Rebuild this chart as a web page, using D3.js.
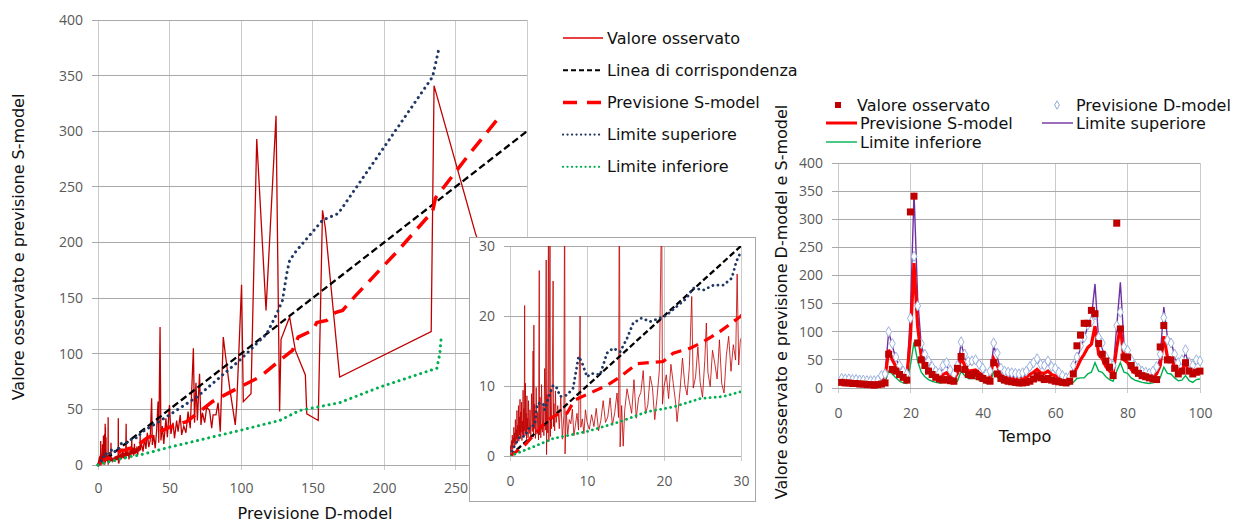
<!DOCTYPE html>
<html>
<head>
<meta charset="utf-8">
<script src="https://cdn.jsdelivr.net/npm/d3@7"></script>
<style>
  body { margin: 0; background: #fff; }
  .tick text { font-family: "Open Sans", sans-serif; font-size: 14px; fill: #595959; }
  .title, .leg { font-family: "DejaVu Sans", sans-serif; font-size: 16px; fill: #111; }
</style>
</head>
<body>
<div id="chart"></div>
<script>

// ---- left chart: observed value vs D-model forecast [D, value] ----
var osservatoD = [
  [0.05,0.3],[0.1,1.5],[0.15,0.8],[0.2,2.2],[0.25,1.1],[0.3,3.0],[0.35,0.9],[0.4,2.6],[0.45,1.8],[0.5,4.1],
  [0.55,1.2],[0.6,3.3],[0.65,2.0],[0.7,5.2],[0.75,1.6],[0.8,3.8],[0.85,2.4],[0.9,6.5],[0.95,1.9],[1.0,4.4],
  [1.05,2.8],[1.1,7.2],[1.15,2.1],[1.2,5.6],[1.25,3.0],[1.3,8.1],[1.35,2.5],[1.4,6.3],[1.45,3.4],[1.5,7.7],
  [1.55,2.2],[1.6,5.0],[1.65,3.1],[1.7,9.4],[1.75,2.7],[1.8,6.8],[1.85,3.6],[1.9,21.5],[1.95,2.9],[2.0,10.4],
  [2.05,3.3],[2.1,6.1],[2.15,2.4],[2.2,8.6],[2.25,3.8],[2.3,5.4],[2.35,2.6],[2.4,7.9],[2.5,3.2],[2.6,6.6],
  [2.7,2.8],[2.8,8.9],[2.9,3.5],[3.0,15.0],[3.05,2.7],[3.1,18.7],[3.15,3.9],[3.2,7.4],[3.3,2.5],[3.4,9.8],
  [3.5,3.1],[3.6,6.2],[3.7,2.3],[3.8,26.5],[3.85,3.0],[3.9,8.4],[4.0,2.6],[4.1,10.2],[4.2,3.4],[4.3,7.1],
  [4.4,2.9],[4.5,12.5],[4.6,3.7],[4.7,28.0],[4.75,0.2],[4.8,8.8],[4.9,3.3],[5.0,37],[5.05,2.1],[5.2,34],
  [5.25,2.8],[5.3,9.6],[5.4,3.9],[5.5,11.2],[5.6,25.0],[5.65,4.2],[5.7,7.5],[5.8,3.6],[5.9,9.3],[6.0,4.8],
  [6.2,7.2],[6.4,3.9],[6.6,8.5],[6.8,2.4],[7.0,5.8],[7.1,43],[7.15,0.3],[7.3,6.4],[7.5,3.1],[7.7,5.2],
  [7.9,4.6],[8.1,6.7],[8.3,2.9],[8.5,4.4],[8.7,6.1],[8.9,3.7],[9.1,20.0],[9.2,4.1],[9.4,5.3],[9.6,3.2],
  [9.8,6.6],[10.0,4.9],[10.3,3.8],[10.6,5.9],[10.9,4.2],[11.2,6.8],[11.5,3.6],[11.8,5.1],[12.1,7.9],[12.4,4.8],
  [12.7,5.6],[13.0,8.3],[13.3,4.4],[13.6,6.2],[13.9,9.0],[14.1,5.5],[14.2,42],[14.3,1.3],[14.5,7.2],[14.7,1.4],
  [14.9,6.6],[15.2,9.6],[15.5,7.8],[15.8,6.1],[16.1,10.9],[16.4,5.4],[16.7,8.3],[17.0,9.1],[17.3,12.2],[17.6,6.0],
  [17.9,7.3],[18.2,11.4],[18.5,9.8],[18.8,5.2],[19.1,8.4],[19.4,12.3],[19.7,37],[19.8,7.4],[20.0,9.9],[20.3,11.6],
  [20.6,8.2],[20.9,13.1],[21.2,10.4],[21.5,7.7],[21.7,4.9],[22.1,9.6],[22.4,14.0],[22.7,10.2],[23.0,8.7],[23.3,12.8],
  [23.6,22.8],[23.8,9.7],[24.1,11.3],[24.4,15.6],[24.7,10.5],[25.0,8.4],[25.3,13.7],[25.5,19.0],[25.7,12.0],[26.0,9.9],
  [26.3,15.1],[26.6,13.2],[26.9,11.0],[27.2,16.6],[27.5,10.3],[27.8,9.0],[28.1,14.4],[28.4,17.1],[28.7,12.1],[29.0,15.9],
  [29.3,13.7],[29.5,26.0],[29.7,13.0],[29.9,16.4],[30.5,18.5],[31.5,12.0],[32.5,24.0],[33.5,14.5],[34.5,29.0],[35.5,16.0],
  [36.5,22.0],[37.5,60.0],[38,18.0],[39,27.0],[40,15.0],[41,31.0],[42,57.0],[42.5,20.0],[43.4,124.0],[44,22.0],
  [45,35.0],[46,19.0],[47.5,42.0],[48.5,25.0],[50,54.0],[51,28.0],[52.5,38.0],[53.5,24.0],[55,40.0],[56,30.0],
  [57.5,45.0],[58.5,27.0],[60,35.0],[61.5,29.0],[63,48.0],[64.5,33.0],[66.7,105.0],[67.5,38.0],[68.5,74.0],[69.5,40.0],
  [71,82.0],[72,36.0],[73,47.0],[74.6,38.0],[76,52.0],[78,49.0],[79.5,33.0],[80.5,45.0],[82.5,45.0],[84,56.0],
  [85.5,30.0],[87.6,115.0],[89,100.0],[92,70.0],[96,36.0],[97,54.0],[100.4,162.0],[101.6,57.0],[107,64.0],[111,293.0],
  [117.5,139.0],[124.5,314.0],[127,48.0],[128,113.0],[134,133.0],[138,103.0],[145,81.0],[146,46.0],[154,40.0],[157,229.0],
  [159,213.0],[169,79.0],[233,120.0],[235,341.0],[264,208.0],[280,150.0]
];
var corrispondenza = [[0,0],[300,300]];
var previsioneS = [
  [0,0],[1.7,1.3],[3.5,3.5],[4.8,5.1],[6.1,5.9],[7.4,6.1],[8.4,8],[10.8,9.2],[12.6,10.1],[14.3,11.3],
  [16.5,13.2],[19.9,13.5],[21.2,14.7],[23.4,15.4],[25.1,16.3],[27.3,17.8],[29.9,19.9],[34,24],[50,34],[62,39],
  [80,57],[99,70],[113,79],[129,96],[136,103],[140,115],[150,121],[153,128],[160,130],[166,137],
  [171,139],[180,152],[210,193],[234,228],[236,240],[260,280],[282,315]
];
var limiteSup = [
  [0,0],[0.65,1.6],[1.3,2.8],[1.9,2.8],[2.6,4.2],[3.2,4.4],[3.55,7.5],[4.3,7.5],[4.5,6.6],[5.2,9],
  [5.6,10.1],[6.1,9.7],[6.5,8.5],[7.4,8.7],[8.2,9.7],[8.9,14.2],[9.3,13.5],[10,11.3],[10.6,11.8],[11.7,11.6],
  [12.6,14.7],[13.4,15.4],[14.3,14.9],[15.2,16.8],[16,19],[17.1,19.7],[18.2,19.2],[19.5,19.7],[20.3,20.1],[21.6,21.3],
  [22.9,22.5],[23.8,24],[25.1,23.7],[26.4,24.4],[27.7,24.4],[28.8,25.4],[29.4,27.8],[29.9,29],[40,37],[50,45],
  [69,61],[99,94],[118,118],[125,136],[129,148],[132,172],[134,184],[139,193],[157,220],[168,226],
  [197,280],[234,349],[238,372]
];
var limiteInf = [
  [0,0],[3,1.3],[5.6,2.5],[10,3.5],[14.3,4.9],[17.7,6.3],[21.2,7],[24.7,8.2],[27.7,8.5],[30,9.2],
  [50,16],[99,31],[127,40],[141,49],[169,56],[197,70],[237,87],[239,100],[240,114]
];
var xTicksL = [0, 50, 100, 150, 200, 250, 300];
var yTicksL = [0, 50, 100, 150, 200, 250, 300, 350, 400];
var ticksInset = [0, 10, 20, 30];
var legendLeft = ["Valore osservato", "Linea di corrispondenza", "Previsione S-model", "Limite superiore", "Limite inferiore"];

// ---- right chart: time series, t = 1..100 ----
var osservato = [10,9,9,8,8,7,7,6,6,5, 6,7,9,60,33,30,24,19,14,313,
  341,80,50,40,30,24,19,16,14,15, 13,12,35,56,33,24,22,26,20,17,
  14,12,45,25,17,14,12,11,10,9, 9,10,12,16,22,18,15,17,14,12,
  11,10,9,12,25,75,94,115,115,138, 132,79,60,48,37,22,293,105,55,55,
  40,32,26,22,20,18,16,15,73,111, 50,50,35,25,30,45,30,25,28,30];
var previsioneD = [17,16,16,15,15,14,14,13,13,13, 14,22,25,100,79,55,40,30,25,124,
  234,146,79,60,48,38,30,27,40,45, 32,25,40,82,60,47,48,50,42,35,
  25,30,80,62,35,30,28,27,26,25, 27,30,38,45,52,42,40,48,38,35,
  28,22,18,20,40,55,75,90,112,118, 130,90,80,55,45,40,111,135,73,67,
  50,40,35,30,28,26,30,38,60,125, 85,80,60,45,50,68,45,40,50,48];
var previsioneSt = [10,10,9,9,8,8,8,7,7,7, 8,14,18,68,50,38,28,22,18,90,
  222,110,55,42,32,26,21,18,24,27, 20,16,26,55,40,30,31,32,27,23,
  16,18,52,40,23,19,18,17,16,16, 17,19,24,28,33,27,26,30,24,22,
  18,14,12,13,26,36,50,60,72,78, 110,60,52,38,30,26,72,110,50,45,
  33,27,23,20,18,17,19,25,40,92, 55,52,38,29,32,44,30,26,32,31];
var limSupT = [15,15,14,14,13,13,12,12,12,12, 13,20,25,100,75,52,38,28,22,130,
  347,160,75,55,42,33,26,22,35,40, 28,20,35,80,55,42,43,45,38,30,
  20,24,75,55,30,25,22,21,20,19, 20,24,32,40,47,38,35,43,34,30,
  24,18,14,16,35,52,70,88,110,125, 185,85,70,50,38,33,110,188,80,62,
  45,35,30,26,24,22,25,33,55,144, 90,85,55,40,45,62,40,35,45,44];
var limInfT = [6,6,6,5,5,5,5,4,4,4, 5,8,10,30,25,18,12,9,8,40,
  82,48,28,20,15,12,10,9,10,11, 9,8,12,30,22,17,17,17,14,12,
  8,9,28,20,11,9,8,8,7,7, 8,9,11,13,16,13,12,14,11,10,
  8,6,5,6,10,17,18,18,25,28, 45,30,28,20,15,12,30,45,28,26,
  18,14,12,10,9,8,9,12,18,37, 26,25,18,13,14,22,13,10,15,16];
var xTicksR = [0, 20, 40, 60, 80, 100];
var yTicksR = [0, 50, 100, 150, 200, 250, 300, 350, 400];
var legendRight = ["Valore osservato", "Previsione D-model", "Previsione S-model", "Limite superiore", "Limite inferiore"];

var tempo = osservato.map(function(d, i){ return i + 1; });

var svg = d3.select("#chart").append("svg")
    .attr("width", 1234)
    .attr("height", 522)
    .style("background", "#fff");

// helper: grid + axes for one panel
function drawFrame(g, x, y, xt, yt, w, h, padX, padY) {
  g.append("g").selectAll("line").data(xt).enter().append("line")
      .attr("x1", function(d){ return x(d); }).attr("x2", function(d){ return x(d); })
      .attr("y1", 0).attr("y2", h + 5)
      .attr("stroke", "#cbcbcb").attr("shape-rendering", "crispEdges");
  g.append("g").selectAll("line").data(yt).enter().append("line")
      .attr("x1", -6).attr("x2", w)
      .attr("y1", function(d){ return y(d); }).attr("y2", function(d){ return y(d); })
      .attr("stroke", "#a9a9a9").attr("shape-rendering", "crispEdges");

  var ax = g.append("g").attr("transform", "translate(0," + h + ")")
      .call(d3.axisBottom(x).tickValues(xt).tickSize(0).tickPadding(padX));
  var ay = g.append("g")
      .call(d3.axisLeft(y).tickValues(yt).tickSize(0).tickPadding(padY));
  ax.select(".domain").remove();
  ay.select(".domain").remove();
}

// ================= left chart =================
var xL = d3.scaleLinear().domain([0, 300]).range([0, 429]);
var yL = d3.scaleLinear().domain([0, 400]).range([445, 0]);
var gL = svg.append("g").attr("transform", "translate(98,20)");
drawFrame(gL, xL, yL, xTicksL, yTicksL, 429, 445, 18, 15);

var lineL = d3.line().x(function(d){ return xL(d[0]); }).y(function(d){ return yL(d[1]); });

gL.append("path").datum(osservatoD).attr("d", lineL)
    .attr("fill", "none").attr("stroke", "#C00000").attr("stroke-width", 1.3);
gL.append("path").datum(corrispondenza).attr("d", lineL)
    .attr("fill", "none").attr("stroke", "#000").attr("stroke-width", 2.3).attr("stroke-dasharray", "7 3.5");
gL.append("path").datum(previsioneS).attr("d", lineL)
    .attr("fill", "none").attr("stroke", "#FF0000").attr("stroke-width", 3.5).attr("stroke-dasharray", "15 9");
gL.append("path").datum(limiteSup).attr("d", lineL)
    .attr("fill", "none").attr("stroke", "#1F3864").attr("stroke-width", 3)
    .attr("stroke-linecap", "round").attr("stroke-dasharray", "0.1 5.6");
gL.append("path").datum(limiteInf).attr("d", lineL)
    .attr("fill", "none").attr("stroke", "#00B050").attr("stroke-width", 3)
    .attr("stroke-linecap", "round").attr("stroke-dasharray", "0.1 5.6");

svg.append("text").attr("class", "title")
    .attr("transform", "translate(24,247) rotate(-90)")
    .attr("text-anchor", "middle")
    .text("Valore osservato e previsione S-model");
svg.append("text").attr("class", "title")
    .attr("x", 315).attr("y", 519)
    .attr("text-anchor", "middle")
    .text("Previsione D-model");

// legend of left chart
var legL = svg.append("g").attr("transform", "translate(563,38)");
var legStyles = [
  {c: "#E00000", w: 1.5, dash: null, cap: "butt"},
  {c: "#000", w: 2, dash: "5 3", cap: "butt"},
  {c: "#FF0000", w: 3.5, dash: "14 10", cap: "butt"},
  {c: "#1F3864", w: 2.2, dash: "0.1 4.4", cap: "round"},
  {c: "#00B050", w: 2.2, dash: "0.1 4.4", cap: "round"}
];
legendLeft.forEach(function(lbl, i) {
  var yy = i * 32.2;
  legL.append("line").attr("x1", 0).attr("x2", 40).attr("y1", yy).attr("y2", yy)
      .attr("stroke", legStyles[i].c).attr("stroke-width", legStyles[i].w)
      .attr("stroke-dasharray", legStyles[i].dash).attr("stroke-linecap", legStyles[i].cap);
  legL.append("text").attr("class", "leg").attr("x", 44).attr("y", yy).attr("dy", "0.35em").text(lbl);
});

// ================= inset (zoom 0-30) =================
svg.append("rect").attr("x", 469.5).attr("y", 237.5).attr("width", 286).attr("height", 264)
    .attr("fill", "#fff").attr("stroke", "#a6a6a6");
var xI = d3.scaleLinear().domain([0, 30]).range([0, 231]);
var yI = d3.scaleLinear().domain([0, 30]).range([210, 0]);
var gI = svg.append("g").attr("transform", "translate(510,246)");
drawFrame(gI, xI, yI, ticksInset, ticksInset, 231, 210, 20, 15);

svg.append("clipPath").attr("id", "clipI").append("rect")
    .attr("x", 0).attr("y", 0).attr("width", 231).attr("height", 210);
var pI = gI.append("g").attr("clip-path", "url(#clipI)");
var lineI = d3.line().x(function(d){ return xI(d[0]); }).y(function(d){ return yI(d[1]); });

pI.append("path").datum(osservatoD).attr("d", lineI)
    .attr("fill", "none").attr("stroke", "#C00000").attr("stroke-width", 0.9).attr("stroke-opacity", 0.9);
pI.append("path").datum(corrispondenza).attr("d", lineI)
    .attr("fill", "none").attr("stroke", "#000").attr("stroke-width", 2.3).attr("stroke-dasharray", "6 3");
pI.append("path").datum(previsioneS).attr("d", lineI)
    .attr("fill", "none").attr("stroke", "#FF0000").attr("stroke-width", 3.2).attr("stroke-dasharray", "11 7");
pI.append("path").datum(limiteSup).attr("d", lineI)
    .attr("fill", "none").attr("stroke", "#1F3864").attr("stroke-width", 2.8)
    .attr("stroke-linecap", "round").attr("stroke-dasharray", "0.1 5");
pI.append("path").datum(limiteInf).attr("d", lineI)
    .attr("fill", "none").attr("stroke", "#00B050").attr("stroke-width", 2.8)
    .attr("stroke-linecap", "round").attr("stroke-dasharray", "0.1 5");

// ================= right chart =================
var xR = d3.scaleLinear().domain([0, 100]).range([0, 362]);
var yR = d3.scaleLinear().domain([0, 400]).range([225, 0]);
var gR = svg.append("g").attr("transform", "translate(838,163)");
drawFrame(gR, xR, yR, xTicksR, yTicksR, 362, 225, 20, 15);

function lineR(vals) {
  return d3.line()
    .x(function(d, i){ return xR(tempo[i]); })
    .y(function(d){ return yR(d); })(vals);
}

gR.append("path").attr("d", lineR(limInfT))
    .attr("fill", "none").attr("stroke", "#00B050").attr("stroke-width", 1.4);
gR.append("path").attr("d", lineR(limSupT))
    .attr("fill", "none").attr("stroke", "#7030A0").attr("stroke-width", 1.4);
gR.append("path").attr("d", lineR(previsioneSt))
    .attr("fill", "none").attr("stroke", "#FF0000").attr("stroke-width", 3.2);

var diamond = d3.symbol().type(d3.symbolDiamond).size(30);
gR.append("g").selectAll("path").data(previsioneD).enter().append("path")
    .attr("d", diamond)
    .attr("transform", function(d, i){ return "translate(" + xR(tempo[i]) + "," + yR(d) + ")"; })
    .attr("fill", "#fff").attr("stroke", "#9DB3DE").attr("stroke-width", 1);

gR.append("g").selectAll("rect").data(osservato).enter().append("rect")
    .attr("x", function(d, i){ return xR(tempo[i]) - 3.5; })
    .attr("y", function(d){ return yR(d) - 3.5; })
    .attr("width", 7).attr("height", 7)
    .attr("fill", "#C00000");

svg.append("text").attr("class", "title")
    .attr("transform", "translate(787,302) rotate(-90)")
    .attr("text-anchor", "middle")
    .text("Valore osservato e previsione D-model e S-model");
svg.append("text").attr("class", "title")
    .attr("x", 1025).attr("y", 442)
    .attr("text-anchor", "middle")
    .text("Tempo");

// legend of right chart
var legR = svg.append("g");
var legPos = [[838, 105], [1057, 105], [826, 123], [1042, 123], [826, 142]];
legendRight.forEach(function(lbl, i) {
  var p = legPos[i], tx;
  if (i === 0) {
    legR.append("rect").attr("x", p[0] - 3).attr("y", p[1] - 3).attr("width", 6).attr("height", 6).attr("fill", "#C00000");
    tx = p[0] + 19;
  } else if (i === 1) {
    legR.append("path").attr("d", d3.symbol().type(d3.symbolDiamond).size(20))
        .attr("transform", "translate(" + p[0] + "," + p[1] + ")")
        .attr("fill", "#fff").attr("stroke", "#8FAADC");
    tx = p[0] + 19;
  } else {
    var col = ["#FF0000", "#7030A0", "#00B050"][i - 2];
    legR.append("line").attr("x1", p[0]).attr("x2", p[0] + 31).attr("y1", p[1]).attr("y2", p[1])
        .attr("stroke", col).attr("stroke-width", i === 2 ? 3 : 1.4);
    tx = p[0] + 34;
  }
  legR.append("text").attr("class", "leg").attr("x", tx).attr("y", p[1]).attr("dy", "0.35em").text(lbl);
});

</script>
</body>
</html>
